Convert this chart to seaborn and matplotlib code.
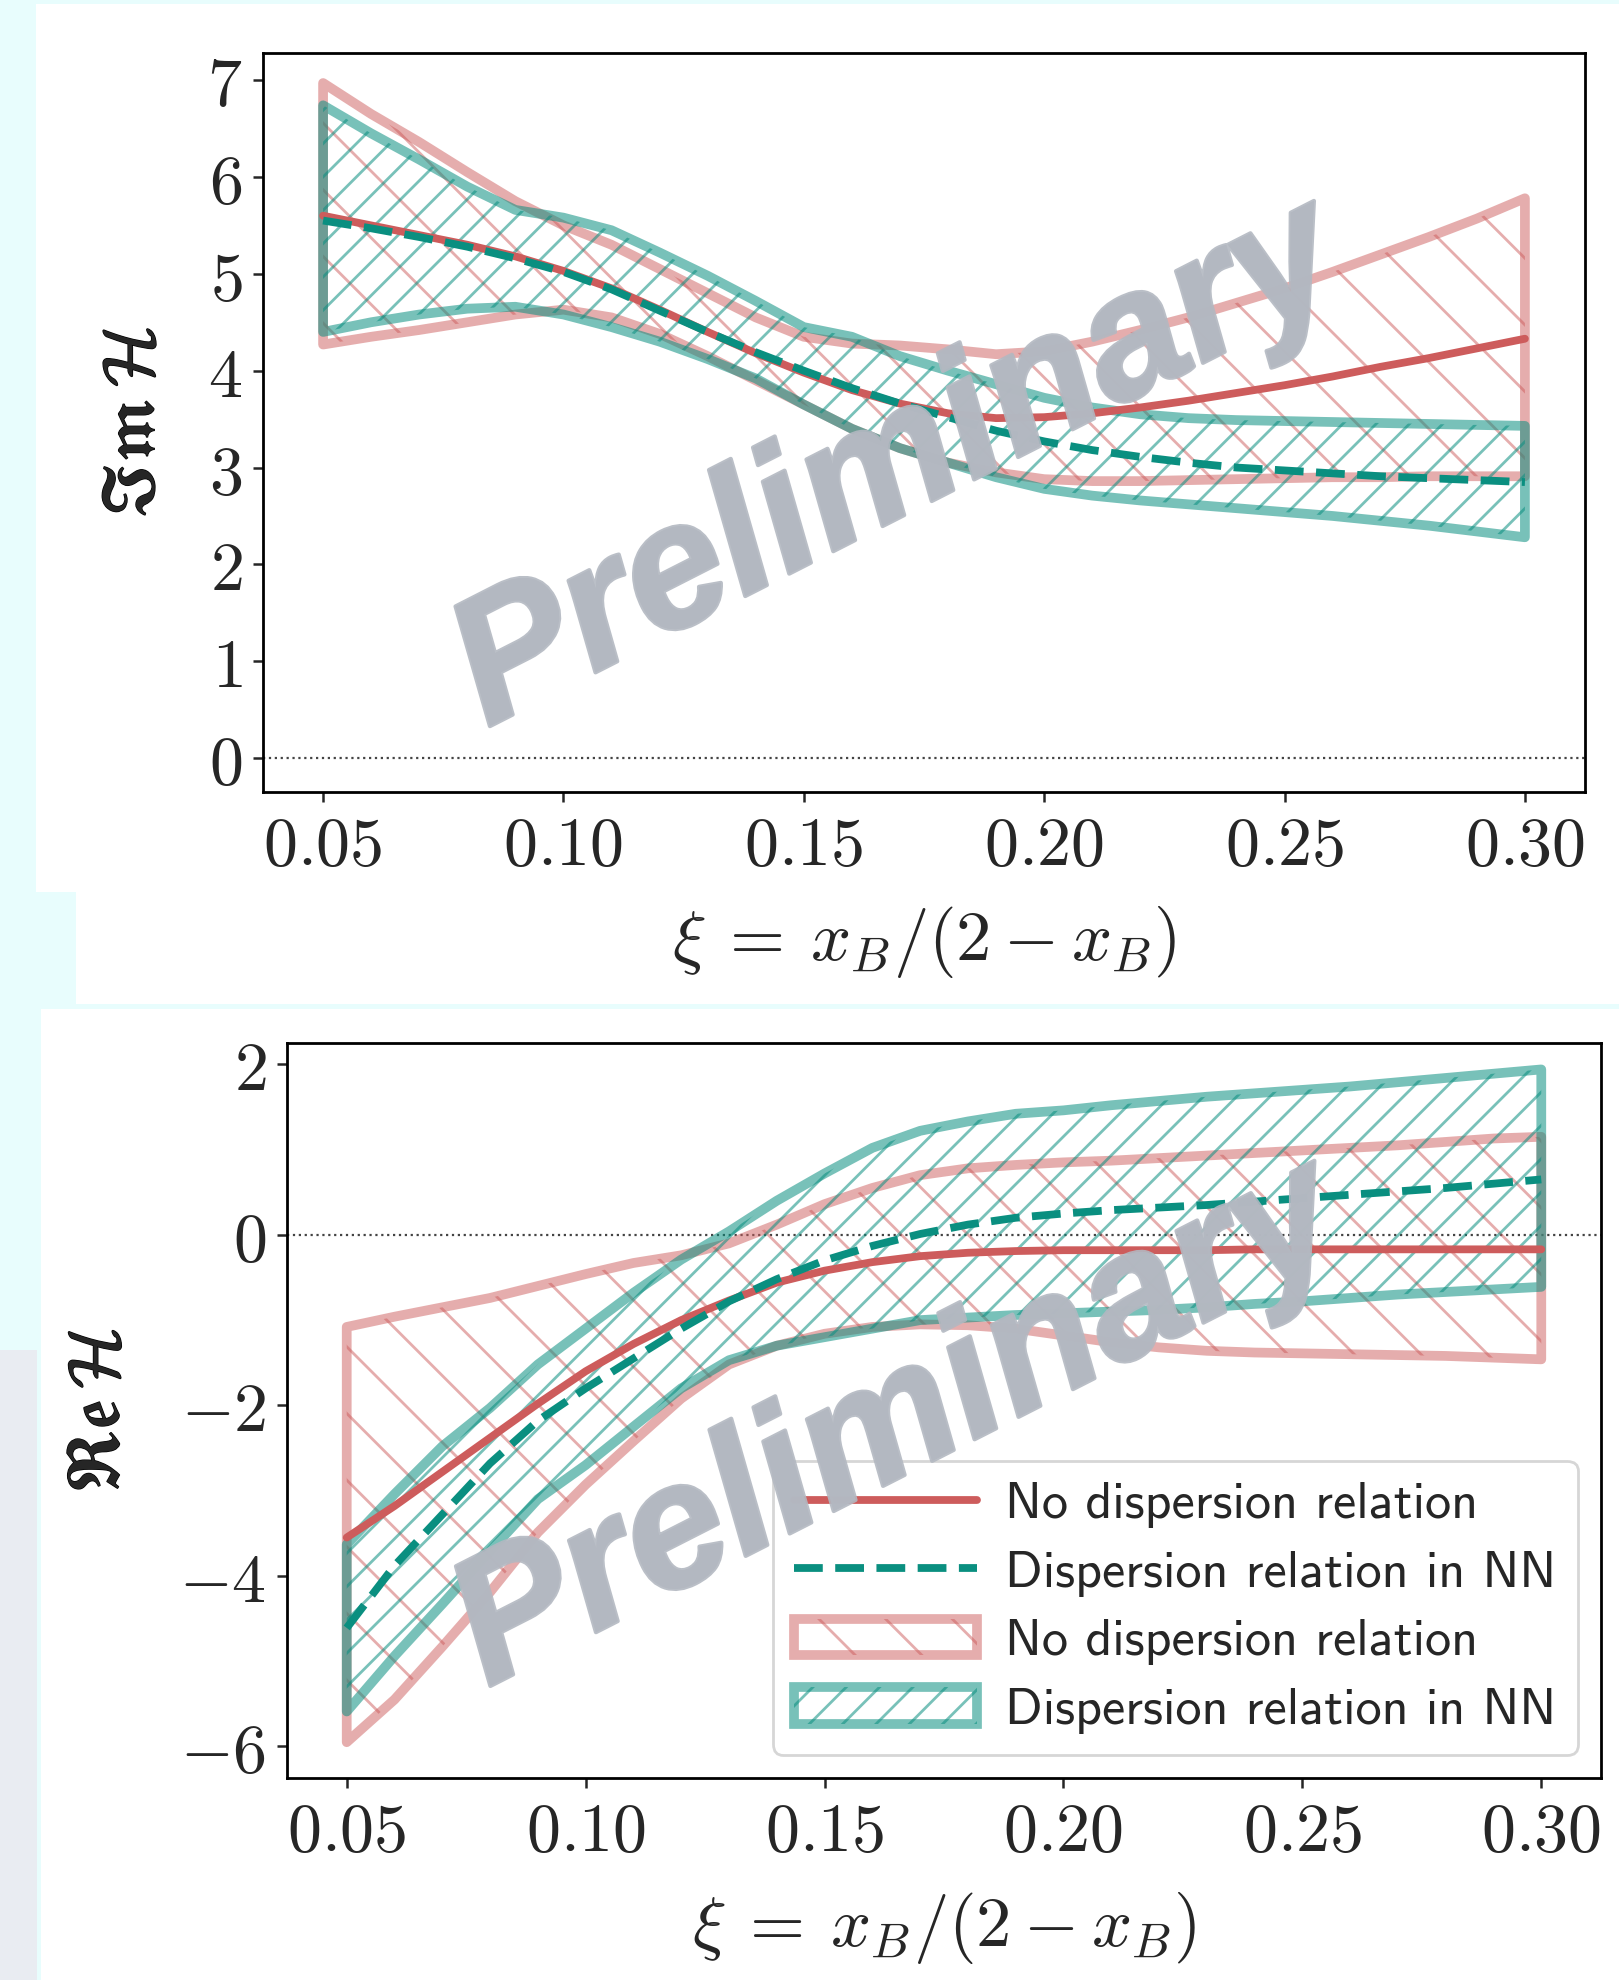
import numpy as np
import pandas as pd
import matplotlib
matplotlib.use("Agg")
import matplotlib.pyplot as plt
import seaborn as sns
from matplotlib.patches import Rectangle
from matplotlib.lines import Line2D
import matplotlib.patheffects as pe
from matplotlib.ticker import FuncFormatter, FixedLocator

# ---------------- data ----------------
xi = [0.05, 0.06, 0.07, 0.08, 0.09, 0.10, 0.11, 0.12, 0.13, 0.14, 0.15, 0.16, 0.17,
      0.18, 0.19, 0.20, 0.21, 0.22, 0.23, 0.24, 0.25, 0.26, 0.27, 0.28, 0.29, 0.30]

# Im H  -- no dispersion relation
im_nodr_mid = [5.60, 5.50, 5.40, 5.30, 5.18, 5.03, 4.85, 4.63, 4.40, 4.18, 3.98, 3.80, 3.66,
               3.56, 3.51, 3.52, 3.56, 3.62, 3.69, 3.77, 3.85, 3.94, 4.04, 4.13, 4.23, 4.33]
im_nodr_hi = [6.97, 6.65, 6.36, 6.05, 5.75, 5.50, 5.30, 5.05, 4.80, 4.55, 4.35, 4.28, 4.26,
              4.22, 4.17, 4.20, 4.30, 4.42, 4.55, 4.70, 4.85, 5.02, 5.20, 5.38, 5.57, 5.78]
im_nodr_lo = [4.27, 4.35, 4.42, 4.50, 4.58, 4.63, 4.55, 4.38, 4.15, 3.90, 3.65, 3.40, 3.20,
              3.05, 2.95, 2.88, 2.86, 2.86, 2.87, 2.88, 2.89, 2.90, 2.90, 2.91, 2.91, 2.91]
# Im H  -- dispersion relation in NN
im_dr_mid = [5.55, 5.47, 5.38, 5.28, 5.16, 5.02, 4.84, 4.62, 4.40, 4.19, 4.00, 3.82, 3.66,
             3.52, 3.38, 3.27, 3.18, 3.11, 3.05, 3.00, 2.97, 2.94, 2.91, 2.89, 2.87, 2.85]
im_dr_hi = [6.74, 6.45, 6.18, 5.90, 5.66, 5.58, 5.45, 5.22, 4.98, 4.72, 4.45, 4.35, 4.15,
            4.00, 3.86, 3.72, 3.62, 3.55, 3.51, 3.49, 3.48, 3.47, 3.46, 3.45, 3.44, 3.43]
im_dr_lo = [4.40, 4.50, 4.58, 4.64, 4.66, 4.58, 4.45, 4.30, 4.12, 3.92, 3.65, 3.40, 3.20,
            3.05, 2.90, 2.78, 2.71, 2.66, 2.62, 2.58, 2.54, 2.50, 2.45, 2.40, 2.34, 2.28]

# Re H  -- no dispersion relation
re_nodr_mid = [-3.55, -3.18, -2.78, -2.38, -1.98, -1.60, -1.28, -1.00, -0.77, -0.56, -0.42, -0.32, -0.25,
               -0.21, -0.19, -0.18, -0.18, -0.18, -0.18, -0.17, -0.17, -0.17, -0.17, -0.17, -0.17, -0.17]
re_nodr_hi = [-1.08, -0.96, -0.85, -0.74, -0.60, -0.46, -0.33, -0.24, -0.10, 0.12, 0.36, 0.55, 0.70,
              0.78, 0.82, 0.85, 0.87, 0.90, 0.93, 0.96, 0.99, 1.02, 1.05, 1.09, 1.13, 1.15]
re_nodr_lo = [-5.95, -5.45, -4.83, -4.19, -3.49, -2.93, -2.42, -1.92, -1.52, -1.30, -1.16, -1.08, -1.05,
              -1.06, -1.10, -1.18, -1.26, -1.32, -1.36, -1.38, -1.39, -1.40, -1.41, -1.42, -1.44, -1.46]
# Re H  -- dispersion relation in NN
re_dr_mid = [-4.61, -3.88, -3.28, -2.68, -2.18, -1.80, -1.45, -1.10, -0.78, -0.52, -0.30, -0.13, 0.01,
             0.12, 0.20, 0.25, 0.29, 0.32, 0.35, 0.39, 0.43, 0.47, 0.51, 0.55, 0.60, 0.65]
re_dr_hi = [-3.63, -3.04, -2.48, -2.03, -1.52, -1.10, -0.68, -0.29, 0.04, 0.40, 0.72, 1.02, 1.22,
            1.33, 1.42, 1.46, 1.52, 1.57, 1.62, 1.66, 1.70, 1.74, 1.79, 1.84, 1.89, 1.94]
re_dr_lo = [-5.59, -4.94, -4.33, -3.71, -3.10, -2.70, -2.25, -1.80, -1.47, -1.30, -1.20, -1.10, -1.00,
            -0.97, -0.94, -0.92, -0.90, -0.88, -0.85, -0.81, -0.78, -0.74, -0.70, -0.67, -0.64, -0.61]

x_ticks = [0.05, 0.10, 0.15, 0.20, 0.25, 0.30]
im_yticks = [0, 1, 2, 3, 4, 5, 6, 7]
re_yticks = [-6, -4, -2, 0, 2]
label_nodr = "No dispersion relation"
label_dr = "Dispersion relation in NN"
watermark = "Preliminary"

# ---------------- style ----------------
sns.set_style("ticks")
plt.rcParams["mathtext.fontset"] = "cm"
plt.rcParams["font.family"] = ["DejaVu Sans"]
plt.rcParams["axes.linewidth"] = 1.0
plt.rcParams["xtick.major.size"] = 3.5
plt.rcParams["ytick.major.size"] = 3.5
plt.rcParams["xtick.major.width"] = 0.9
plt.rcParams["ytick.major.width"] = 0.9
plt.rcParams["hatch.linewidth"] = 1.0

RED = "#cd5c5c"
TEAL = "#0a8f80"
TICK_FS = 24.5
LAB_FS = 25.5

W, H = 1619, 1980
DPI = 200
fig = plt.figure(figsize=(W / DPI, H / DPI), dpi=DPI)
fig.patch.set_facecolor("#e8fdfd")

# screenshot-like white panels
for (x0, y0, x1, y1, c) in [(36, 4, W, 892, "white"), (76, 892, W, 1004, "white"),
                            (41, 1009, W, H, "white"), (0, 1350, 37, H, "#e9ecf2")]:
    fig.add_artist(Rectangle((x0 / W, 1 - y1 / H), (x1 - x0) / W, (y1 - y0) / H,
                             transform=fig.transFigure, facecolor=c, edgecolor="none", zorder=-5))

ax1 = fig.add_axes([263 / W, 1 - 792 / H, (1585 - 263) / W, (792 - 53) / H])
ax2 = fig.add_axes([287 / W, 1 - 1778 / H, (1601 - 287) / W, (1778 - 1043) / H])

fmt = FuncFormatter(lambda v, p: r"$%.2f$" % v)
yfmt = FuncFormatter(lambda v, p: r"$%d$" % int(round(v)))


def panel(ax, mid_a, lo_a, hi_a, mid_b, lo_b, hi_b, yticks, ylim, ylabel, ylab_xy, wm_xy):
    ax.set_facecolor("white")
    fa = ax.fill_between(xi, lo_a, hi_a, facecolor="none", edgecolor=RED, hatch="\\",
                         alpha=0.5, linewidth=3.5, zorder=1.5)
    fb = ax.fill_between(xi, lo_b, hi_b, facecolor="none", edgecolor=TEAL, hatch="//",
                         alpha=0.55, linewidth=3.5, zorder=1.6)
    df_a = pd.DataFrame({"xi": xi, "v": mid_a})
    df_b = pd.DataFrame({"xi": xi, "v": mid_b})
    sns.lineplot(data=df_a, x="xi", y="v", ax=ax, color=RED, linewidth=2.8, zorder=3)
    sns.lineplot(data=df_b, x="xi", y="v", ax=ax, color=TEAL, linewidth=2.8,
                 linestyle="--", zorder=3.1)
    ax.axhline(0, color="#444444", linestyle=":", linewidth=0.8, zorder=1)
    ax.set_xlim(0.0375, 0.3125)
    ax.set_ylim(*ylim)
    ax.xaxis.set_major_locator(FixedLocator(x_ticks))
    ax.yaxis.set_major_locator(FixedLocator(yticks))
    ax.xaxis.set_major_formatter(fmt)
    ax.yaxis.set_major_formatter(yfmt)
    ax.tick_params(labelsize=TICK_FS, direction="out", pad=4)
    ax.set_xlabel(r"$\xi \:=\: x_B/(2 - x_B)$", fontsize=LAB_FS)
    ax.xaxis.set_label_coords(0.5, -0.152)
    yl = ax.set_ylabel(r"$\mathfrak{Im}\,\mathcal{H}$" if ylabel == "im" else r"$\mathfrak{Re}\,\mathcal{H}$",
                       fontsize=LAB_FS + 0.5)
    yl.set_path_effects([pe.withStroke(linewidth=0.5, foreground="black")])
    ax.yaxis.set_label_coords(*ylab_xy)
    for s in ax.spines.values():
        s.set_color("black")
        s.set_linewidth(1.0)
    ax.text(wm_xy[0], wm_xy[1], watermark, transform=ax.transAxes, rotation=27,
            fontsize=64, fontweight="bold", fontstyle="italic", family="Liberation Sans",
            color="#b3b8c1", alpha=0.9, ha="center", va="center", zorder=10,
            path_effects=[pe.withStroke(linewidth=1.5, foreground="#b3b8c1", alpha=0.9)])
    return fa, fb


panel(ax1, im_nodr_mid, im_nodr_lo, im_nodr_hi, im_dr_mid, im_dr_lo, im_dr_hi,
      im_yticks, (-0.35, 7.28), "im", (-0.072, 0.5), (0.480, 0.44))
fa, fb = panel(ax2, re_nodr_mid, re_nodr_lo, re_nodr_hi, re_dr_mid, re_dr_lo, re_dr_hi,
               re_yticks, (-6.37, 2.25), "re", (-0.117, 0.5), (0.465, 0.478))

handles = [Line2D([], [], color=RED, lw=2.8),
           Line2D([], [], color=TEAL, lw=2.8, ls="--"),
           fa, fb]
labels = [label_nodr, label_dr, label_nodr, label_dr]
leg = ax2.legend(handles, labels, loc="lower right",
                 prop={"family": ["cmss10", "DejaVu Sans"], "size": 18.8},
                 handlelength=3.5, handletextpad=0.55, labelspacing=0.42,
                 borderpad=0.4, borderaxespad=0.45, framealpha=0.8)
leg.set_zorder(5)

fig.savefig("out.png", dpi=DPI, facecolor=fig.get_facecolor())
